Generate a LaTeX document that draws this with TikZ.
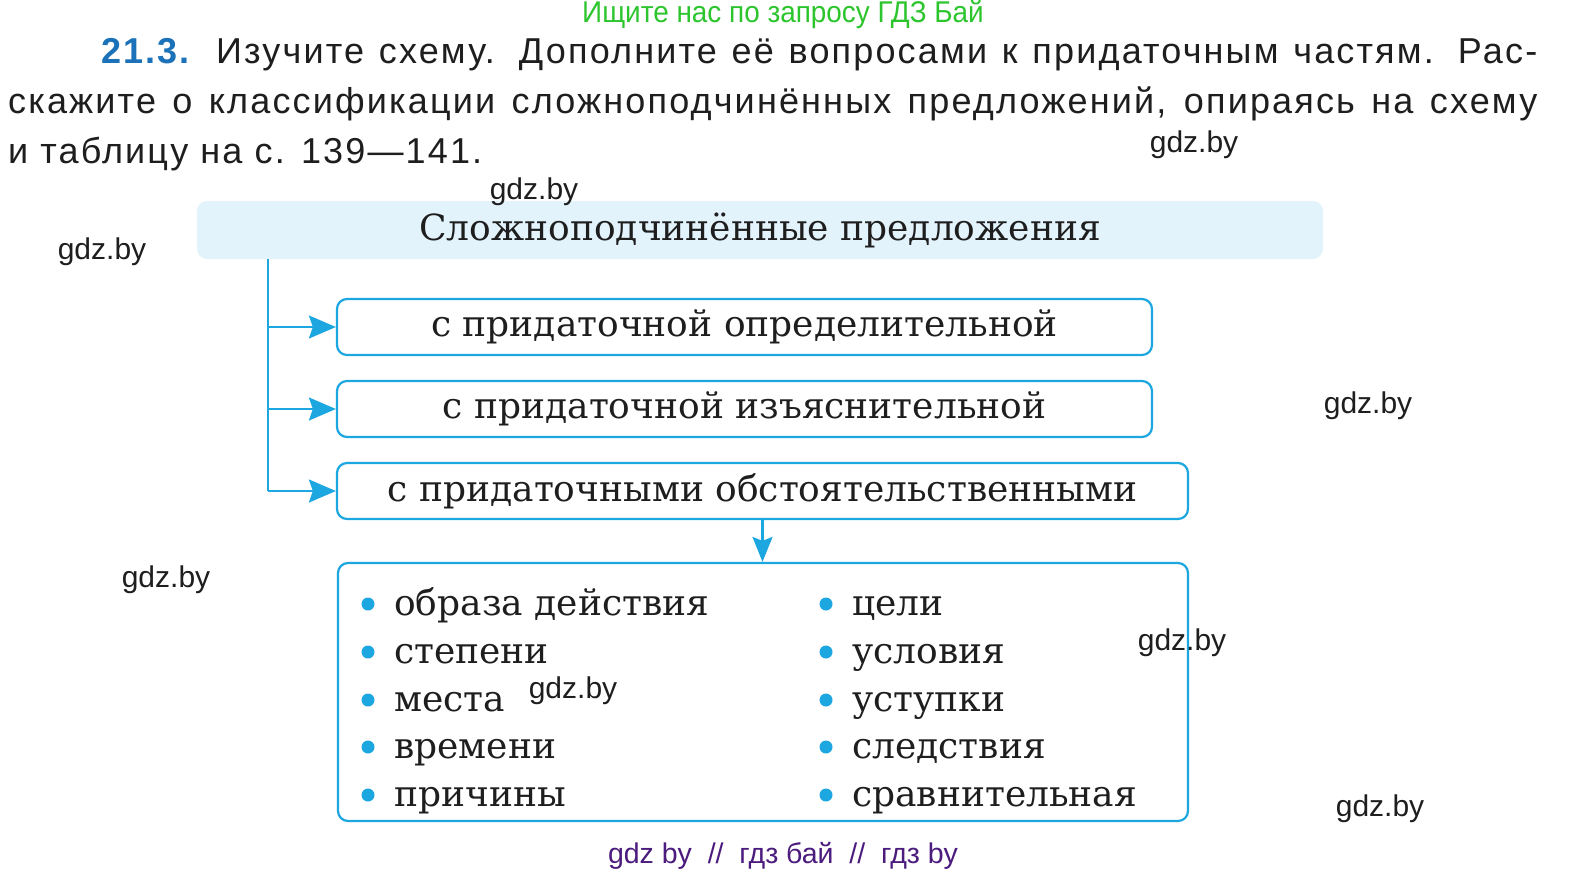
\documentclass[tikz,border=0pt]{standalone}
\usepackage{fontspec}
\setmainfont{DejaVu Serif}
\newfontfamily\boxfontfam{DejaVu Serif}
\newfontfamily\hsans{Liberation Sans}
\newfontfamily\hsanssp[LetterSpace=6]{Liberation Sans}
\usetikzlibrary{arrows.meta}
\definecolor{cy}{HTML}{1DA7E0}
\definecolor{lightbg}{HTML}{E3F3FC}
\definecolor{numblue}{HTML}{1B72B8}
\definecolor{wmgreen}{HTML}{2DC52D}
\definecolor{wmpurple}{HTML}{4B1B7E}
\definecolor{ink}{HTML}{1E1E1E}
\begin{document}
\begin{tikzpicture}[x=1pt,y=-1pt,
  cyl/.style={draw=cy, line width=2.2pt},
  tip/.style={-{Stealth[length=27pt,width=23pt,inset=4pt]}},
  boxfont/.style={font=\boxfontfam\fontsize{36}{40}\selectfont},
  sbox/.style={cyl, rounded corners=10pt, minimum height=56pt, inner sep=0pt, boxfont, text=ink},
  item/.style={anchor=base west, inner sep=0pt, boxfont, text=ink},
  wm/.style={font=\hsans\fontsize{30}{34}\selectfont, text=ink, inner sep=0pt}
]
\useasboundingbox (0,0) rectangle (1586,884);
\fill[white] (0,0) rectangle (1586,884);

% header
\node[font=\hsans\fontsize{30}{34}\selectfont, text=wmgreen, inner sep=0pt] (green) at (783,14) {\scalebox{0.93}[1]{Ищите нас по запросу ГДЗ Бай}};
\node[anchor=base west, inner sep=0pt, text width=1529pt, align=justify,
      font=\hsanssp\fontsize{36}{50}\selectfont, text=ink] (task) at (8,63)
 {\hspace*{93pt}\textcolor{numblue}{\textbf{21.3.}} Изучите схему. Дополните её вопросами к придаточным частям. Рас-\linebreak
 скажите о классификации сложноподчинённых предложений, опираясь на схему\linebreak
 и таблицу на с. 139—141.};

% title box
\node[fill=lightbg, rounded corners=10pt, minimum width=1126pt, minimum height=58pt, inner sep=0pt,
      font=\boxfontfam\fontsize{36}{40}\selectfont, text=ink] (top) at (760,230) {Сложноподчинённые предложения};

% boxes
\node[sbox, minimum width=815pt] (b1) at (744.5,327) {с придаточной определительной};
\node[sbox, minimum width=815pt] (b2) at (744.5,409) {с придаточной изъяснительной};
\node[sbox, minimum width=851pt] (b3) at (762.5,491) {с придаточными обстоятельственными};
\node[cyl, rounded corners=10pt, minimum width=850pt, minimum height=258pt, inner sep=0pt] (b4) at (763,692) {};

% connectors
\coordinate (t0) at (268,259);
\draw[draw=cy, line width=2.2pt] (t0) -- (t0 |- b3.west);
\draw[draw=cy, fill=cy, line width=2.2pt, tip] (t0 |- b1.west) -- (b1.west);
\draw[draw=cy, fill=cy, line width=2.2pt, tip] (t0 |- b2.west) -- (b2.west);
\draw[draw=cy, fill=cy, line width=2.2pt, tip] (t0 |- b3.west) -- (b3.west);
\draw[draw=cy, fill=cy, line width=2.2pt, -{Stealth[length=25pt,width=20pt,inset=4pt]}] (b3.south) -- (b3.south |- b4.north);

% items
\foreach \t/\y [count=\i] in {образа действия/615, степени/663, места/711, времени/758, причины/806}{
  \node[item] (l\i) at (394,\y) {\t};
  \fill[cy] (368,\y-11) circle (6.5pt);
}
\foreach \t/\y [count=\i] in {цели/615, условия/663, уступки/711, следствия/758, сравнительная/806}{
  \node[item] (r\i) at (852,\y) {\t};
  \fill[cy] (826,\y-11) circle (6.5pt);
}

% watermarks
\node[wm] (w1) at (1194,145) {gdz.by};
\node[wm] (w2) at (534,192) {gdz.by};
\node[wm] (w3) at (102,252) {gdz.by};
\node[wm] (w4) at (1368,406) {gdz.by};
\node[wm] (w5) at (166,580) {gdz.by};
\node[wm] (w6) at (1182,643) {gdz.by};
\node[wm] (w7) at (573,691) {gdz.by};
\node[wm] (w8) at (1380,809) {gdz.by};
\node[font=\hsans\fontsize{28.5}{32}\selectfont, text=wmpurple, inner sep=0pt] (bottom) at (783,856)
  {gdz by\ \ //\ \ гдз бай\ \ //\ \ гдз by};
\end{tikzpicture}
\end{document}
